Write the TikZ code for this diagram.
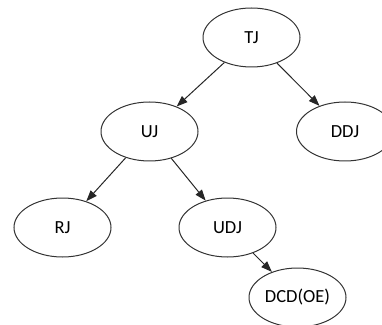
\documentclass[tikz,border=0pt]{standalone}
\usepackage{fontspec}
\setmainfont{Carlito}
\usepackage{tikz}
\usetikzlibrary{shapes.geometric, arrows.meta}
\tikzstyle{jellipse} = [ellipse,
minimum width=97pt,
minimum height=59pt,
inner sep=0pt,
text centered,
font=\fontsize{18.5}{22}\selectfont,
draw=black!80, line width=1pt]
\tikzstyle{jarrow} = [-{Triangle[length=11pt, width=8pt]}, draw=black!85, line width=1pt]

\begin{document}
\begin{tikzpicture}[x=1pt, y=1pt, node distance=94pt]
		\useasboundingbox (0,0) rectangle (382,324);
		\node (tj) [jellipse] at (251.5,286.5) {TJ};
		\node (uj) [jellipse, below of=tj, xshift=-102pt] {UJ};
		\node (ddj) [jellipse, below of=tj, xshift=93.5pt] {DDJ};
		\node (rj) [jellipse, below of=uj, xshift=-87pt, yshift=-2pt] {RJ};
		\node (udj) [jellipse, below of=uj, xshift=78pt, yshift=-2pt] {UDJ};
		\node (dcd) [jellipse, below of=udj, xshift=70pt, yshift=24pt] {DCD(OE)};
		
		\draw [jarrow](tj) -- (uj);
		\draw [jarrow](tj) -- (ddj);
		\draw [jarrow](uj) -- (rj);
		\draw [jarrow](uj) -- (udj);
		\draw [jarrow](udj) -- (dcd);
	\end{tikzpicture}
\end{document}
